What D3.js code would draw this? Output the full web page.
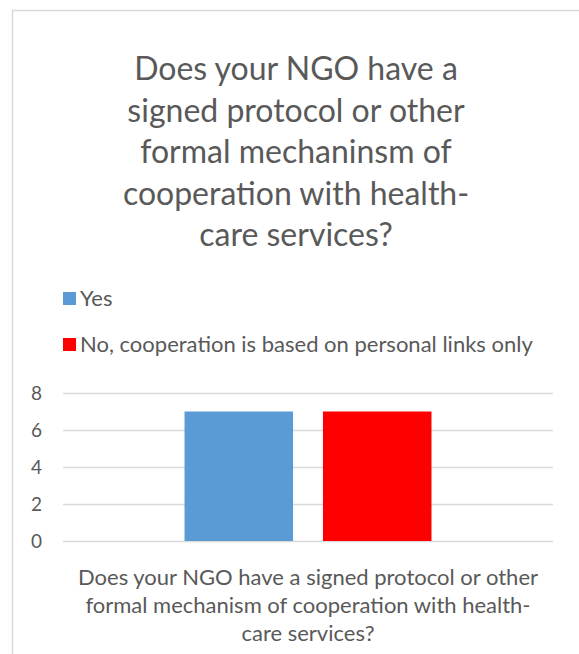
<!DOCTYPE html>
<html>
<head>
<meta charset="utf-8">
<script src="https://cdn.jsdelivr.net/npm/d3@7"></script>
<style>
  body { margin: 0; background: #fff; }
  text { font-family: Lato, "Open Sans", sans-serif; fill: #595959; }
</style>
</head>
<body>
<div id="chart"></div>
<script>
// chart data
var titleLines = ["Does your NGO have a", "signed protocol or other", "formal mechaninsm of", "cooperation with health-", "care services?"];
var categoryLines = ["Does your NGO have a signed protocol or other", "formal mechanism of cooperation with health-", "care services?"];
var series = ["Yes", "No, cooperation is based on personal links only"];
var values = [7, 7];
var colors = ["#5b9bd5", "#ff0000"];
var yTicks = [0, 2, 4, 6, 8];

var W = 579, H = 654;
var margin = {top: 393, right: 26, bottom: 113, left: 63},
    width = W - margin.left - margin.right,
    height = H - margin.top - margin.bottom;

var svg = d3.select("#chart").append("svg")
  .attr("width", W)
  .attr("height", H);

// outer frame
svg.append("rect")
  .attr("x", 12.5).attr("y", 10.5)
  .attr("width", 600).attr("height", 700)
  .attr("fill", "none")
  .attr("stroke", "#d9d9d9")
  .attr("stroke-width", 1.5);

// title
svg.append("g").selectAll("text")
  .data(titleLines)
  .enter().append("text")
    .attr("x", 296)
    .attr("y", function(d, i) { return 80 + i * 41.5; })
    .attr("text-anchor", "middle")
    .style("font-size", "32px")
    .text(function(d) { return d; });

// legend
var legend = svg.append("g").selectAll("g")
  .data(series)
  .enter().append("g")
    .attr("transform", function(d, i) { return "translate(63," + (292 + i * 46) + ")"; });
legend.append("rect")
  .attr("width", 13).attr("height", 13)
  .attr("fill", function(d, i) { return colors[i]; });
legend.append("text")
  .attr("x", 17).attr("y", 14)
  .style("font-size", "22px")
  .text(function(d) { return d; });

var g = svg.append("g")
  .attr("transform", "translate(" + margin.left + "," + margin.top + ")");

var y = d3.scaleLinear().domain([0, 8]).range([height, 0]);
var x0 = d3.scaleBand().domain(["c"]).range([0, width]).paddingInner(0).paddingOuter(0.492);
var x1 = d3.scaleBand().domain(series).range([0, x0.bandwidth()]).paddingInner(0.216).paddingOuter(0);

// gridlines + labels
var yAxis = g.append("g")
  .call(d3.axisLeft(y).tickValues(yTicks).tickSize(-width).tickPadding(21));
yAxis.select(".domain").remove();
yAxis.selectAll(".tick line").attr("stroke", "#d9d9d9").attr("stroke-width", 1.5);
yAxis.selectAll(".tick text")
  .style("font-size", "19px")
  .style("font-family", "Lato, 'Open Sans', sans-serif")
  .attr("fill", "#595959");

// bars
g.append("g").selectAll("rect")
  .data(values)
  .enter().append("rect")
    .attr("x", function(d, i) { return x0("c") + x1(series[i]); })
    .attr("y", function(d) { return y(d); })
    .attr("width", x1.bandwidth())
    .attr("height", function(d) { return height - y(d); })
    .attr("fill", function(d, i) { return colors[i]; });

// category label
g.append("g").selectAll("text")
  .data(categoryLines)
  .enter().append("text")
    .attr("x", x0("c") + x0.bandwidth() / 2)
    .attr("y", function(d, i) { return height + 44 + i * 28; })
    .attr("text-anchor", "middle")
    .style("font-size", "22px")
    .text(function(d) { return d; });
</script>
</body>
</html>
